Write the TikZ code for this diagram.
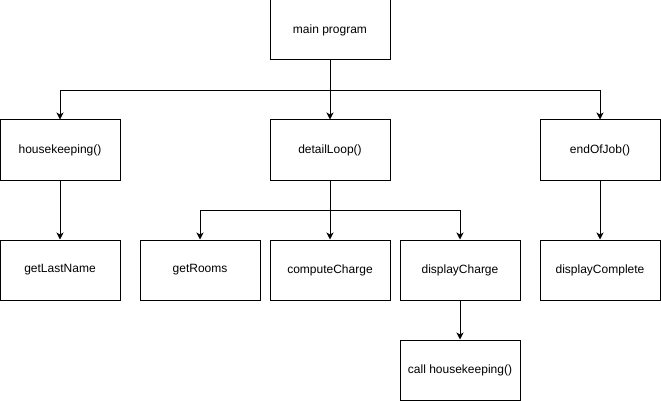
\documentclass[tikz,border=0pt]{standalone}
\usepackage{fontspec}
\setmainfont{Liberation Sans}
\usetikzlibrary{arrows.meta}
\begin{document}
\begin{tikzpicture}[x=1pt,y=-1pt,
  box/.style={draw=black,line width=1pt,minimum width=120pt,minimum height=60pt,inner sep=0pt,font=\fontsize{12}{14}\selectfont,fill=white},
  conn/.style={draw=black,line width=1pt,-{Stealth[length=7pt,width=7pt,inset=2pt]}}]
\useasboundingbox[fill=white] (0,0) rectangle (661,401);
\node[box] (main) at (330,30) {main program};
\node[box] (hk) at (60,150) {housekeeping()};
\node[box] (dl) at (330,150) {detailLoop()};
\node[box] (eoj) at (600,150) {endOfJob()};
\node[box] (gln) at (60,270) {getLastName};
\node[box] (gr) at (200,270) {getRooms};
\node[box] (cc) at (330,270) {computeCharge};
\node[box] (dc) at (460,270) {displayCharge};
\node[box] (dcomp) at (600,270) {displayComplete};
\node[box] (chk) at (460,370) {call housekeeping()};
\draw[conn] (main.south) -- ++(0,30) -| (hk.north);
\draw[conn] (main.south) -- (dl.north);
\draw[conn] (main.south) -- ++(0,30) -| (eoj.north);
\draw[conn] (hk.south) -- (gln.north);
\draw[conn] (dl.south) -- ++(0,30) -| (gr.north);
\draw[conn] (dl.south) -- (cc.north);
\draw[conn] (dl.south) -- ++(0,30) -| (dc.north);
\draw[conn] (eoj.south) -- (dcomp.north);
\draw[conn] (dc.south) -- (chk.north);
\end{tikzpicture}
\end{document}
